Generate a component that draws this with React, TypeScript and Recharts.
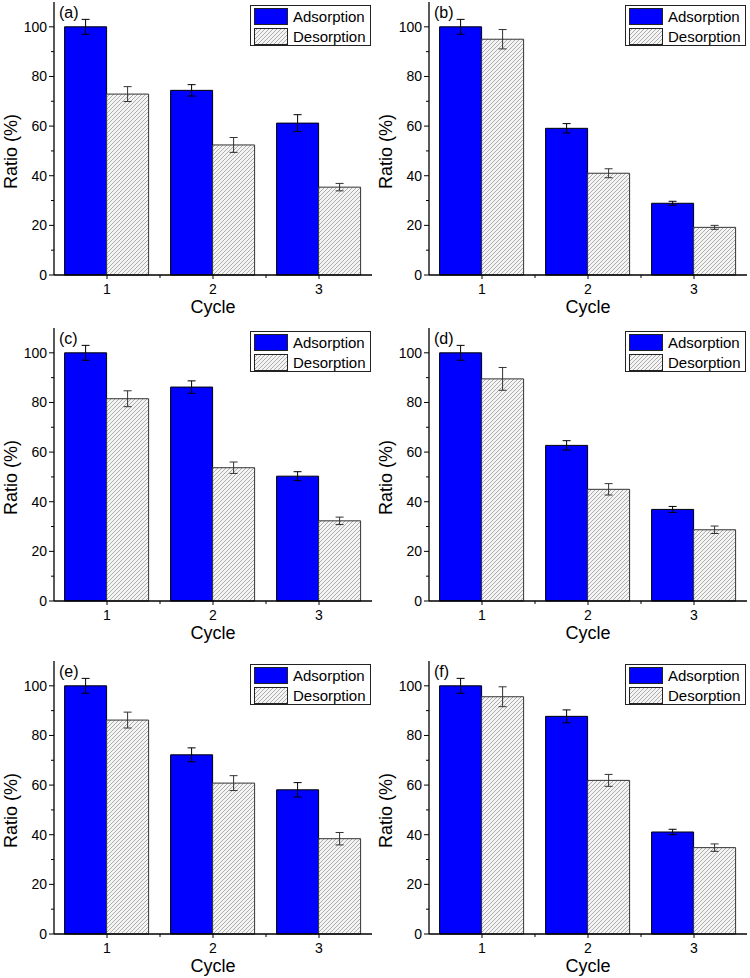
import React from "react";
import { BarChart, Bar, XAxis, YAxis, ErrorBar } from "recharts";

const cycles = ["1", "2", "3"];
const yTicks = [0, 10, 20, 30, 40, 50, 60, 70, 80, 90, 100];
const seriesNames = ["Adsorption", "Desorption"];

// (a)
const adsA = [100, 74.4, 61.2];
const adsErrA = [3, 2.3, 3.4];
const desA = [72.9, 52.4, 35.4];
const desErrA = [3, 3, 1.5];
// (b)
const adsB = [100, 59.1, 28.9];
const adsErrB = [3, 1.9, 0.8];
const desB = [95.0, 41.0, 19.2];
const desErrB = [3.9, 1.8, 0.8];
// (c)
const adsC = [100, 86.2, 50.3];
const adsErrC = [3, 2.5, 1.8];
const desC = [81.5, 53.7, 32.3];
const desErrC = [3.2, 2.3, 1.5];
// (d)
const adsD = [100, 62.7, 36.9];
const adsErrD = [3, 1.9, 1.2];
const desD = [89.5, 45.0, 28.7];
const desErrD = [4.6, 2.3, 1.5];
// (e)
const adsE = [100, 72.2, 58.1];
const adsErrE = [3, 2.8, 2.9];
const desE = [86.2, 60.8, 38.4];
const desErrE = [3.2, 3, 2.5];
// (f)
const adsF = [100, 87.7, 41.1];
const adsErrF = [3, 2.6, 1.1];
const desF = [95.6, 61.9, 34.8];
const desErrF = [4, 2.4, 1.5];

const CHART_W = 375;
const CHART_H = 320;
const Y_W = 54;
const X_H = 45;
const MARGIN = { top: 2, right: 3, bottom: 0, left: 0 };
const BAND = (CHART_W - Y_W - MARGIN.right - MARGIN.left) / cycles.length;
const FONT = "'Liberation Sans', Arial, Helvetica, sans-serif";
const BLUE = "#0000ff";

function YTick(props: any) {
  const { x, y, payload } = props;
  const v = payload.value;
  const major = v % 20 === 0;
  return (
    <g>
      <line x1={x - (major ? 5 : 3)} y1={y} x2={x} y2={y} stroke="#000" strokeWidth={1} />
      {major && (
        <text x={x - 7} y={y} textAnchor="end" dominantBaseline="central" fontSize={14} fontFamily={FONT} fill="#000">
          {v}
        </text>
      )}
    </g>
  );
}

function XTick(props: any) {
  const { x, y, payload, index } = props;
  return (
    <g>
      <line x1={x} y1={y} x2={x} y2={y + 4} stroke="#000" strokeWidth={1} />
      {index < cycles.length - 1 && (
        <line x1={x + BAND / 2} y1={y} x2={x + BAND / 2} y2={y + 3} stroke="#000" strokeWidth={1} />
      )}
      <text x={x} y={y + 19} textAnchor="middle" fontSize={14} fontFamily={FONT} fill="#000">
        {payload.value}
      </text>
    </g>
  );
}

function CycleTitle(props: any) {
  const vb = props.viewBox || {};
  return (
    <text x={vb.x + vb.width / 2} y={vb.y + 38} textAnchor="middle" fontSize={18} fontFamily={FONT} fill="#000">
      Cycle
    </text>
  );
}

function RatioTitle(props: any) {
  const vb = props.viewBox || {};
  const cx = 17;
  const cy = vb.y + vb.height / 2 + 13;
  return (
    <text x={cx} y={cy} transform={`rotate(-90, ${cx}, ${cy})`} textAnchor="middle" fontSize={18} fontFamily={FONT} fill="#000">
      Ratio (%)
    </text>
  );
}

function Panel(props: any) {
  const { id, label, ads, adsErr, des, desErr, left, top } = props;
  const data = cycles.map((c, i) => ({
    cycle: c,
    ads: ads[i],
    adsErr: adsErr[i],
    des: des[i],
    desErr: desErr[i],
  }));
  const hatch = `hatch-${id}`;
  const frame = { stroke: "#000", strokeWidth: 1.3 };
  return (
    <div style={{ position: "absolute", left, top, width: CHART_W, height: CHART_H, fontFamily: FONT }}>
      <BarChart width={CHART_W} height={CHART_H} data={data} margin={MARGIN} barGap={0} barCategoryGap="10%">
        <defs>
          <pattern id={hatch} width={4} height={4} patternUnits="userSpaceOnUse">
            <rect width={4} height={4} fill="#f4f4f4" />
            <path d="M-1,1 l2,-2 M0,4 l4,-4 M3,5 l2,-2" stroke="#9a9a9a" strokeWidth={0.8} />
          </pattern>
        </defs>
        <XAxis
          dataKey="cycle"
          height={X_H}
          interval={0}
          tickSize={0}
          tickMargin={0}
          tickLine={false}
          axisLine={frame}
          tick={<XTick />}
          label={<CycleTitle />}
        />
        <XAxis xAxisId="top" orientation="top" dataKey="cycle" height={0} tick={false} tickLine={false} axisLine={frame} />
        <YAxis
          domain={[0, 110]}
          ticks={yTicks}
          interval={0}
          width={Y_W}
          tickSize={0}
          tickMargin={0}
          tickLine={false}
          axisLine={frame}
          tick={<YTick />}
          label={<RatioTitle />}
        />
        <YAxis yAxisId="right" orientation="right" domain={[0, 110]} width={0} tick={false} tickLine={false} axisLine={frame} />
        <Bar dataKey="ads" name={seriesNames[0]} fill={BLUE} stroke="#000" strokeWidth={1} isAnimationActive={false}>
          <ErrorBar dataKey="adsErr" width={4} stroke="#000" strokeWidth={1} isAnimationActive={false} />
        </Bar>
        <Bar dataKey="des" name={seriesNames[1]} fill={`url(#${hatch})`} stroke="#333" strokeWidth={1} isAnimationActive={false}>
          <ErrorBar dataKey="desErr" width={4} stroke="#333" strokeWidth={1} isAnimationActive={false} />
        </Bar>
      </BarChart>
      <div
        style={{
          position: "absolute",
          left: 59,
          top: MARGIN.top + 3,
          fontSize: 16,
          lineHeight: "16px",
          color: "#000",
        }}
      >
        {label}
      </div>
      <div
        style={{
          position: "absolute",
          left: 250,
          top: MARGIN.top + 3,
          width: 121,
          height: 41,
          border: "1px solid #222",
          boxSizing: "border-box",
          background: "#fff",
        }}
      >
        {seriesNames.map((n, i) => (
          <div key={n} style={{ position: "absolute", left: 3, top: 2 + i * 20, height: 17, display: "flex", alignItems: "center" }}>
            <svg width={34} height={17} style={{ display: "block" }}>
              <rect x={0.5} y={0.5} width={33} height={16} fill={i === 0 ? BLUE : `url(#${hatch})`} stroke="#222" strokeWidth={1} />
            </svg>
            <span style={{ marginLeft: 5, fontSize: 15, color: "#000", whiteSpace: "nowrap" }}>{n}</span>
          </div>
        ))}
      </div>
    </div>
  );
}

export default function App() {
  const cols = [0, 375];
  const rows = [0, 326, 659];
  return (
    <div style={{ position: "absolute", left: 0, top: 0, width: 750, height: 978, overflow: "hidden", background: "#fff" }}>
      <Panel id="a" label="(a)" ads={adsA} adsErr={adsErrA} des={desA} desErr={desErrA} left={cols[0]} top={rows[0]} />
      <Panel id="b" label="(b)" ads={adsB} adsErr={adsErrB} des={desB} desErr={desErrB} left={cols[1]} top={rows[0]} />
      <Panel id="c" label="(c)" ads={adsC} adsErr={adsErrC} des={desC} desErr={desErrC} left={cols[0]} top={rows[1]} />
      <Panel id="d" label="(d)" ads={adsD} adsErr={adsErrD} des={desD} desErr={desErrD} left={cols[1]} top={rows[1]} />
      <Panel id="e" label="(e)" ads={adsE} adsErr={adsErrE} des={desE} desErr={desErrE} left={cols[0]} top={rows[2]} />
      <Panel id="f" label="(f)" ads={adsF} adsErr={adsErrF} des={desF} desErr={desErrF} left={cols[1]} top={rows[2]} />
    </div>
  );
}
